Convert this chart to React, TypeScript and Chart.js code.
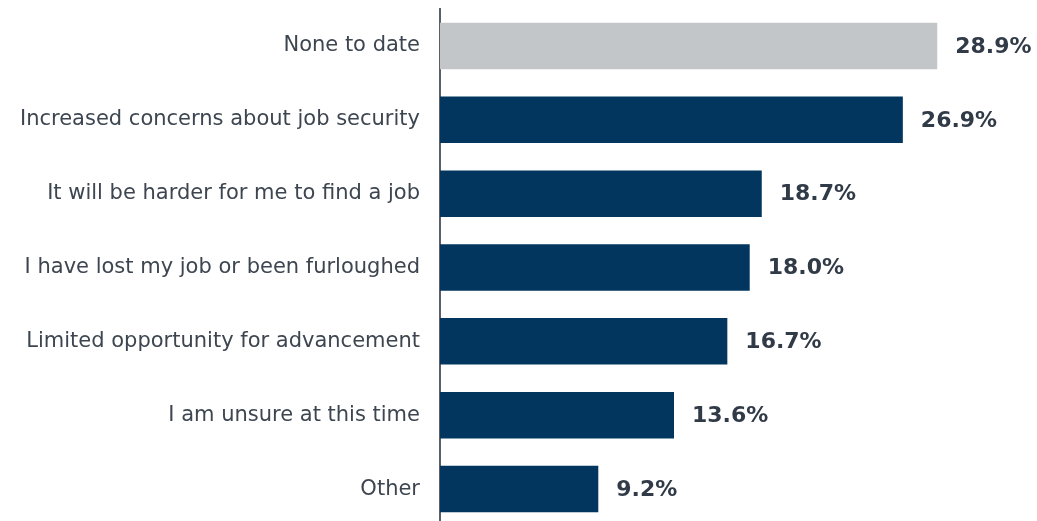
import React, { useEffect, useRef } from "react";
import { Chart, registerables } from "chart.js";

Chart.register(...registerables);

const categories = [
  "None to date",
  "Increased concerns about job security",
  "It will be harder for me to find a job",
  "I have lost my job or been furloughed",
  "Limited opportunity for advancement",
  "I am unsure at this time",
  "Other",
];
const values = [28.9, 26.9, 18.7, 18.0, 16.7, 13.6, 9.2];
const barColors = ["#C3C6C9", "#02365E", "#02365E", "#02365E", "#02365E", "#02365E", "#02365E"];

const valueLabelPlugin = {
  id: "valueLabels",
  afterDatasetsDraw(chart: any) {
    const ctx = chart.ctx;
    const meta = chart.getDatasetMeta(0);
    ctx.save();
    ctx.font = "bold 22px 'DejaVu Sans'";
    ctx.fillStyle = "#313B48";
    ctx.textAlign = "left";
    ctx.textBaseline = "middle";
    meta.data.forEach((bar: any, i: number) => {
      ctx.fillText(values[i].toFixed(1) + "%", bar.x + 18, bar.y + 1);
    });
    ctx.restore();
  },
};

export default function App() {
  const ref = useRef<HTMLCanvasElement>(null);
  useEffect(() => {
    document.body.style.margin = "0";
    document.body.style.overflow = "hidden";
    document.documentElement.style.overflow = "hidden";
    const chart = new Chart(ref.current!, {
      type: "bar",
      data: {
        labels: categories,
        datasets: [
          {
            data: values,
            backgroundColor: barColors,
            barPercentage: 0.63,
            categoryPercentage: 1,
          },
        ],
      },
      options: {
        indexAxis: "y",
        animation: false,
        responsive: false,
        maintainAspectRatio: false,
        layout: { padding: { top: 9, right: 12, bottom: 0, left: 0 } },
        plugins: { legend: { display: false }, tooltip: { enabled: false } },
        scales: {
          x: {
            min: 0,
            max: 34,
            display: false,
            grid: { display: false },
          },
          y: {
            afterFit(scale: any) {
              scale.width = 440;
              scale.paddingTop = 0;
              scale.paddingBottom = 0;
            },
            grid: { display: false, drawTicks: false },
            border: { display: true, color: "#5A5F66", width: 2 },
            ticks: {
              padding: 20,
              color: "#3D4650",
              font: { family: "'DejaVu Sans'", size: 21 },
            },
          },
        },
      },
      plugins: [valueLabelPlugin],
    });
    return () => chart.destroy();
  }, []);
  return (
    <div style={{ width: 1037, height: 526 }}>
      <canvas ref={ref} width={1037} height={526} style={{ display: "block" }} />
    </div>
  );
}
